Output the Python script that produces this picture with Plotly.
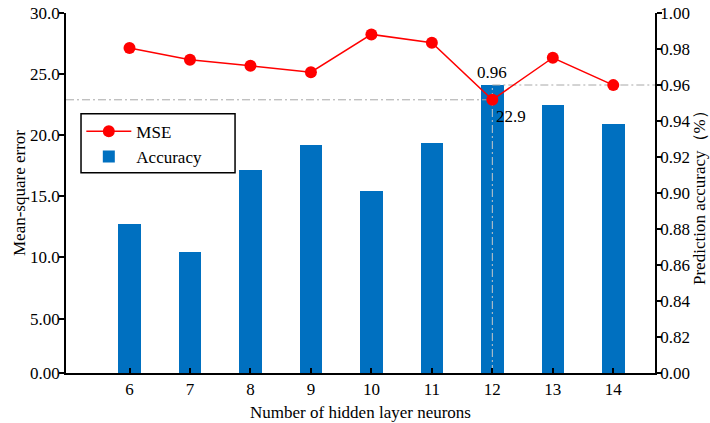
import plotly.graph_objects as go

# Hidden-layer neuron counts and the two measured series
neurons = [6, 7, 8, 9, 10, 11, 12, 13, 14]
mse = [27.13, 26.17, 25.68, 25.16, 28.25, 27.57, 22.9, 26.34, 24.10]
accuracy = [0.883, 0.867, 0.913, 0.9265, 0.901, 0.928, 0.96, 0.949, 0.9385]

# Axis ticks (both value axes use a broken lower end labelled 0.00)
mse_tickvals = [0.55, 5, 10, 15, 20, 25, 30]
mse_ticktext = ["0.00", "5.00", "10.0", "15.0", "20.0", "25.0", "30.0"]
acc_tickvals = [0.80, 0.82, 0.84, 0.86, 0.88, 0.90, 0.92, 0.94, 0.96, 0.98, 1.00]
acc_ticktext = ["0.00", "0.82", "0.84", "0.86", "0.88", "0.90", "0.92", "0.94", "0.96", "0.98", "1.00"]

x_range = [4.95, 14.69]
mse_range = [0.55, 30]
acc_range = [0.80, 1.00]

best_n = 12
best_i = neurons.index(best_n)

FONT = "Liberation Serif"
BLUE = "#0070C0"
RED = "#FF0000"
GUIDE = "#A8A8A8"
DASH = "8px,3px,2px,3px"

fig = go.Figure()

# Accuracy bars on the right-hand axis
fig.add_trace(go.Bar(
    x=neurons, y=accuracy, width=0.373,
    marker=dict(color=BLUE, line=dict(width=0)),
    name="Accuracy", xaxis="x", yaxis="y", legendrank=2,
))

# Guide lines at the best configuration (accuracy axis)
fig.add_trace(go.Scatter(
    x=[best_n, best_n], y=[acc_range[0], accuracy[best_i]],
    mode="lines", line=dict(color="#C8C8C8", width=1, dash=DASH),
    showlegend=False, hoverinfo="skip", xaxis="x", yaxis="y",
))
fig.add_trace(go.Scatter(
    x=[best_n, x_range[1]], y=[accuracy[best_i], accuracy[best_i]],
    mode="lines", line=dict(color=GUIDE, width=1, dash=DASH),
    showlegend=False, hoverinfo="skip", xaxis="x", yaxis="y",
))

# Guide line for the minimum MSE (left axis)
fig.add_trace(go.Scatter(
    x=[x_range[0], best_n], y=[mse[best_i], mse[best_i]],
    mode="lines", line=dict(color=GUIDE, width=1, dash=DASH),
    showlegend=False, hoverinfo="skip", xaxis="x", yaxis="y2",
))

# MSE line on the left-hand axis
fig.add_trace(go.Scatter(
    x=neurons, y=mse, mode="lines+markers",
    line=dict(color=RED, width=1.5),
    marker=dict(color=RED, size=12),
    name="MSE", xaxis="x", yaxis="y2", legendrank=1,
))

axis_common = dict(
    showline=True, linecolor="black", linewidth=1.5,
    showgrid=False, zeroline=False, automargin=False,
    tickfont=dict(family=FONT, size=17, color="black"),
    ticklen=5, tickwidth=1.5, tickcolor="black",
)

title_font = dict(family=FONT, size=17, color="black")

fig.update_layout(
    width=710, height=423,
    margin=dict(l=66, r=55, t=13, b=50),
    paper_bgcolor="white", plot_bgcolor="white",
    font=dict(family=FONT, size=17, color="black"),
    bargap=0,
    xaxis=dict(
        range=x_range, tickvals=neurons, ticks="inside",
        title=dict(text="Number of hidden layer neurons", font=title_font, standoff=8),
        **axis_common,
    ),
    yaxis=dict(
        side="right", range=acc_range, tickvals=acc_tickvals, ticktext=acc_ticktext,
        ticks="outside", ticklabelstandoff=-5,
        **axis_common,
    ),
    yaxis2=dict(
        side="left", overlaying="y", range=mse_range,
        tickvals=mse_tickvals, ticktext=mse_ticktext, ticks="outside",
        ticklabelstandoff=-4,
        **axis_common,
    ),
    legend=dict(
        x=0.026, y=0.72, xanchor="left", yanchor="top",
        bgcolor="rgba(0,0,0,0)", borderwidth=0,
        font=dict(family=FONT, size=17, color="black"),
        itemwidth=45, tracegroupgap=0,
    ),
    # framed box behind the legend entries
    shapes=[
        dict(type="rect", xref="paper", yref="paper",
             x0=0.0255, x1=0.287, y0=0.556, y1=0.720,
             line=dict(color="black", width=1.5), fillcolor="white", layer="above"),
    ],
    annotations=[
        # value axis titles
        dict(x=-0.0798, y=0.5, xref="paper", yref="paper", text="Mean-square error",
             textangle=-90, showarrow=False, xanchor="center", yanchor="middle",
             font=title_font),
        dict(x=1.0747, y=0.5, xref="paper", yref="paper", text="Prediction accuracy（%）",
             textangle=-90, showarrow=False, xanchor="center", yanchor="middle",
             font=title_font),
        # value labels at the best configuration
        dict(x=best_n, y=accuracy[best_i], xref="x", yref="y",
             text=f"{accuracy[best_i]:.2f}", showarrow=False,
             yanchor="bottom", yshift=1, font=title_font),
        dict(x=best_n, y=mse[best_i], xref="x", yref="y2",
             text=f"{mse[best_i]:.1f}", showarrow=False,
             xanchor="left", yanchor="middle", xshift=2, yshift=-17,
             font=title_font),
    ],
)

fig.write_html("out.html")
